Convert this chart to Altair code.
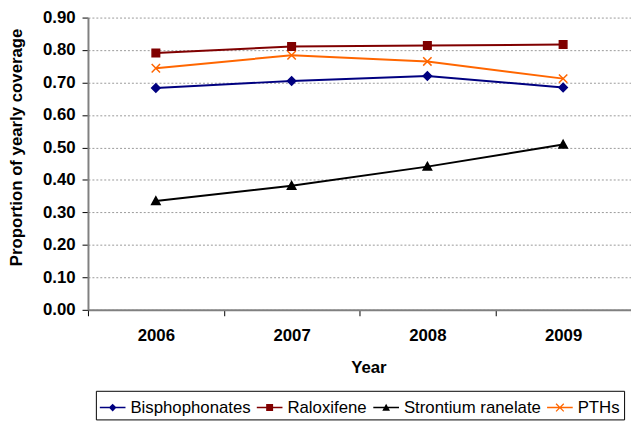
import altair as alt
import pandas as pd

years = ["2006", "2007", "2008", "2009"]
series = ["Bisphophonates", "Raloxifene", "Strontium ranelate", "PTHs"]
bisphophonates = [0.683, 0.705, 0.720, 0.685]
raloxifene = [0.791, 0.811, 0.814, 0.817]
strontium = [0.335, 0.382, 0.441, 0.509]
pths = [0.744, 0.784, 0.765, 0.712]
colors = ["#000080", "#800000", "#000000", "#FF6600"]
y_ticks = [0.0, 0.1, 0.2, 0.3, 0.4, 0.5, 0.6, 0.7, 0.8, 0.9]

values_by_series = [bisphophonates, raloxifene, strontium, pths]
rows = []
for s, vals in zip(series, values_by_series):
    for yr, v in zip(years, vals):
        rows.append({"year": yr, "series": s, "value": v})
df = pd.DataFrame(rows)

# marker shapes in the plot
marker_paths = [
    "M0,-1L1,0L0,1L-1,0Z",
    "M-0.9,-0.9H0.9V0.9H-0.9Z",
    "M0,-1L1,0.8H-1Z",
    "M-1,-1L1,1M-1,1L1,-1",
]

# legend symbols: line segment + marker
line_seg = "M-1,-0.06H1V0.06H-1Z"
x_arm1 = "M-0.265,-0.335L0.335,0.265L0.265,0.335L-0.335,-0.265Z"
x_arm2 = "M0.335,-0.265L-0.265,0.335L-0.335,0.265L0.265,-0.335Z"
legend_paths = [
    line_seg + "M0,-0.3L0.3,0L0,0.3L-0.3,0Z",
    line_seg + "M-0.27,-0.27H0.27V0.27H-0.27Z",
    line_seg + "M0,-0.3L0.3,0.25H-0.3Z",
    line_seg + x_arm1 + x_arm2,
]

FONT = "Liberation Sans"

x_enc = alt.X(
    "year:N",
    title="Year",
    sort=years,
    scale=alt.Scale(type="band", domain=years, paddingInner=0, paddingOuter=0),
    axis=alt.Axis(
        labelAngle=0,
        tickBand="extent",
        tickSize=6,
        tickColor="#000000",
        labelPadding=12,
        labelFontSize=17,
        labelFontWeight="bold",
        labelColor="#000000",
        titleFontSize=17,
        titleFontWeight="bold",
        titleColor="#000000",
        titleX=284,
        titleY=58,
        titleBaseline="middle",
        domainColor="#808080",
        domainWidth=2,
        grid=False,
    ),
)
y_enc = alt.Y(
    "value:Q",
    title="Proportion of yearly coverage",
    scale=alt.Scale(domain=[0, 0.9], nice=False, zero=True),
    axis=alt.Axis(
        values=y_ticks,
        format=".2f",
        tickSize=6,
        tickColor="#000000",
        labelPadding=7,
        labelFontSize=17,
        labelFontWeight="bold",
        labelColor="#000000",
        titleFontSize=17,
        titleFontWeight="bold",
        titleColor="#000000",
        titleX=-72,
        titleY=131,
        titleAngle=270,
        titleBaseline="middle",
        domainColor="#808080",
        domainWidth=2,
        grid=True,
        gridColor="#999999",
        gridDash=[2, 2],
        gridWidth=1,
    ),
)

lines = alt.Chart(df).mark_line(strokeWidth=2).encode(
    x=x_enc,
    y=y_enc,
    color=alt.Color("series:N", scale=alt.Scale(domain=series, range=colors), legend=None),
)

points = alt.Chart(df).mark_point(filled=True, size=72, strokeWidth=1.5, opacity=1).encode(
    x=x_enc,
    y=y_enc,
    shape=alt.Shape("series:N", scale=alt.Scale(domain=series, range=marker_paths), legend=None),
    fill=alt.Fill("series:N", scale=alt.Scale(domain=series, range=colors), legend=None),
    stroke=alt.Stroke("series:N", scale=alt.Scale(domain=series, range=colors), legend=None),
)

leg = alt.Legend(
    title=None,
    orient="none",
    legendX=8,
    legendY=378,
    direction="horizontal",
    columns=4,
    strokeColor="#000000",
    fillColor="#ffffff",
    padding=4,
    labelFontSize=17,
    labelFont=FONT,
    labelColor="#000000",
    labelOffset=5,
    columnPadding=6,
    symbolSize=676,
    symbolStrokeWidth=0,
    symbolOpacity=1,
)

legend_layer = alt.Chart(df).transform_filter("false").mark_point(
    filled=True, size=676, opacity=1
).encode(
    x=x_enc,
    y=y_enc,
    shape=alt.Shape("series:N", scale=alt.Scale(domain=series, range=legend_paths), legend=leg),
    fill=alt.Fill("series:N", scale=alt.Scale(domain=series, range=colors), legend=leg),
)

chart = (
    alt.layer(lines, points, legend_layer)
    .resolve_scale(shape="independent", fill="independent")
    .properties(
        width=550,
        height=296,
        autosize=alt.AutoSizeParams(type="none"),
        padding={"left": 81, "top": 7, "right": 0, "bottom": 118},
    )
    .configure(font=FONT)
    .configure_view(strokeOpacity=0)
)

chart.save("out.html", embed_options={"renderer": "svg", "actions": False})
